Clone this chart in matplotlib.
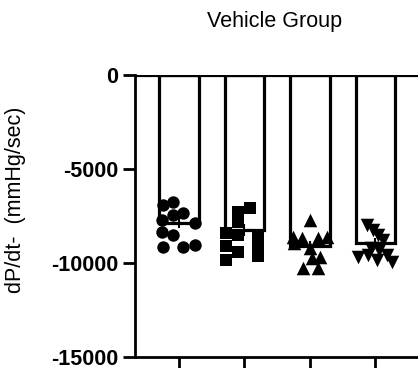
import matplotlib
matplotlib.use("Agg")
import matplotlib.pyplot as plt
import numpy as np

plt.rcParams['font.family'] = ['Liberation Sans', 'DejaVu Sans']

title = "Vehicle Group"
ylabel = "dP/dt-  (mmHg/sec)"
yticks = [0, -5000, -10000, -15000]

bar_means = [-7850, -8250, -9100, -8920]
bar_sem = [280, 300, 270, 230]

g1 = [-6915, -6755, -7713, -7447, -7340, -7872, -8351, -8510, -9149, -9149, -9042]
g2 = [-7074, -7287, -7819, -8404, -8510, -8564, -9096, -9096, -9415, -9628, -9840]
g3 = [-7713, -8617, -8670, -8670, -8617, -9202, -9734, -9680, -10266, -10266, -8936]
g4 = [-7979, -8245, -8510, -8776, -9680, -9574, -9840, -9574, -9947, -9202, -9308]
groups = [g1, g2, g3, g4]

# horizontal jitter (layout)
j1 = [-0.24, -0.09, -0.26, -0.09, 0.06, 0.24, -0.26, -0.09, -0.24, 0.06, 0.24]
j2 = [0.08, -0.10, -0.10, -0.28, -0.10, 0.20, -0.28, 0.20, -0.10, 0.20, -0.28]
j3 = [0.0, -0.26, -0.12, 0.12, 0.26, 0.0, 0.03, 0.15, -0.11, 0.12, -0.24]
j4 = [-0.13, -0.04, 0.04, 0.11, -0.27, -0.12, 0.02, 0.17, 0.25, -0.06, 0.06]
jitters = [j1, j2, j3, j4]
markers = ['o', 's', '^', 'v']
msizes = [80, 75, 95, 95]

fig = plt.figure(figsize=(4.18, 3.68), dpi=100)
ax = fig.add_axes([135/418, 1-357/368, 1-135/418, (357-75)/368])

x = np.arange(4)
ax.bar(x, bar_means, width=0.6, facecolor='white', edgecolor='black', linewidth=2.3, zorder=2)
for i, (vals, jit) in enumerate(zip(groups, jitters)):
    ax.scatter(x[i] + np.array(jit), vals, marker=markers[i], s=msizes[i],
               color='black', linewidths=0, zorder=3)
ax.errorbar(x, bar_means, yerr=bar_sem, fmt='none', ecolor='black', elinewidth=1.5,
            capsize=0, zorder=4)
for i in range(4):
    ax.plot([x[i]-0.12, x[i]+0.12], [bar_means[i], bar_means[i]], color='black', lw=1.5, zorder=4)

ax.axhline(0, color='black', lw=2.3, zorder=5)
ax.set_xlim(-0.67, 3.65)
ax.set_ylim(-15000, 0)
ax.set_yticks(yticks)
ax.set_yticklabels([str(v) for v in yticks], fontweight='bold', fontsize=15.5)
ax.set_xticks(x)
ax.set_xticklabels([])
ax.tick_params(axis='both', width=2, length=9, direction='out', pad=3)
for s in ['top', 'right']:
    ax.spines[s].set_visible(False)
for s in ['left', 'bottom']:
    ax.spines[s].set_linewidth(2)

fig.text(275/418, 1-21/368, title, ha='center', va='center', fontsize=15.5)
fig.text(16/418, 1-200/368, ylabel, ha='center', va='center', rotation=90, fontsize=15.5)

fig.savefig('out.png', dpi=100)
